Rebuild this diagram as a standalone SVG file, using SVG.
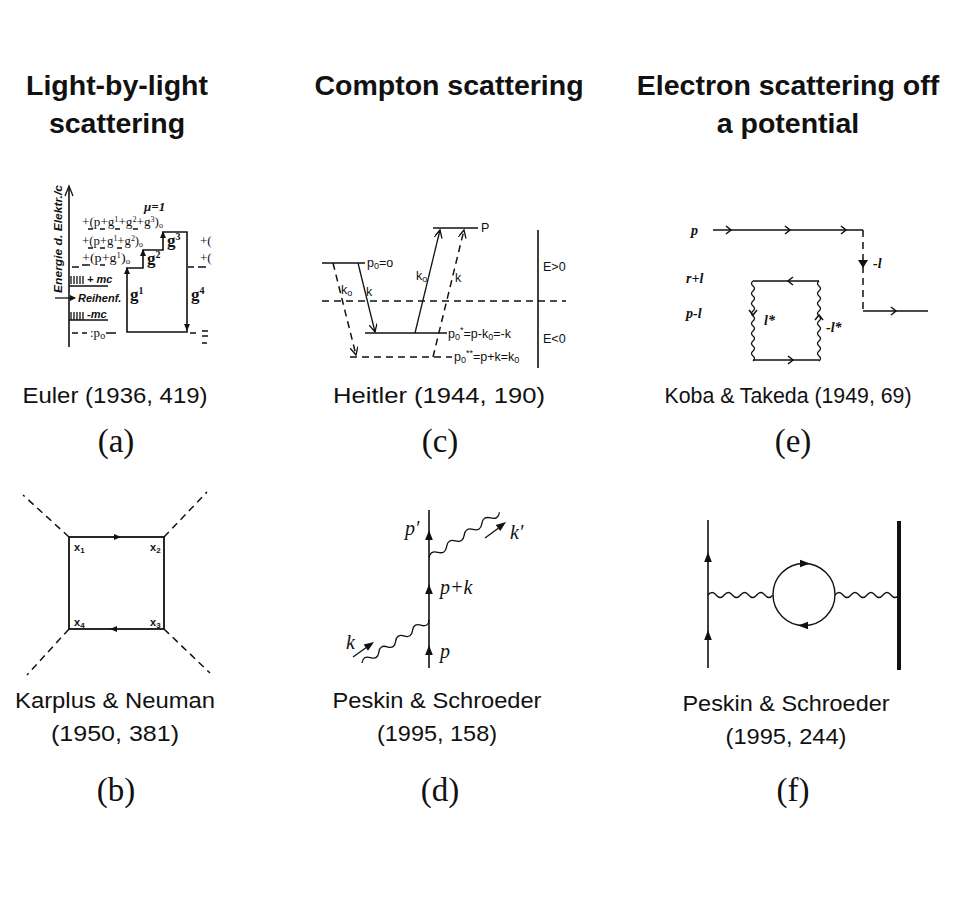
<svg xmlns="http://www.w3.org/2000/svg" xmlns:xlink="http://www.w3.org/1999/xlink" width="956" height="900" viewBox="0 0 956 900">
<style>
.title{font-family:"Liberation Sans",Arial,sans-serif;font-weight:bold;font-size:28.5px;text-anchor:middle;fill:#111}
.cap{font-family:"Liberation Sans",Arial,sans-serif;font-size:22px;text-anchor:middle;fill:#111}
.lab{font-family:"Liberation Serif","Times New Roman",serif;font-size:33px;text-anchor:middle;fill:#111}
.ln{stroke:#111;fill:none;stroke-width:1.6}
.thin{stroke:#111;fill:none;stroke-width:1.3}
.dash{stroke:#111;fill:none;stroke-width:1.5;stroke-dasharray:7,5}
.eu{font-family:"Liberation Serif","Times New Roman",serif;font-size:13px;fill:#111}
.eub{font-family:"Liberation Serif","Times New Roman",serif;font-weight:bold;font-size:17px;fill:#111}
.eui{font-family:"Liberation Sans",Arial,sans-serif;font-style:italic;font-weight:bold;font-size:11px;fill:#111}
.he{font-family:"Liberation Sans",Arial,sans-serif;font-size:12.5px;fill:#111}
.kt{font-family:"Liberation Serif","Times New Roman",serif;font-style:italic;font-weight:bold;font-size:14px;fill:#111}
.ps{font-family:"Liberation Serif","Times New Roman",serif;font-style:italic;font-size:20px;fill:#111}
.kn{font-family:"Liberation Sans",Arial,sans-serif;font-weight:bold;font-size:11px;fill:#111}
.wave{stroke:#111;fill:none;stroke-width:1.3}
</style>
<defs>
<path id="ah" d="M0,0 L-10,-3.8 L-10,3.8 Z" fill="#111"/>
<path id="sah" d="M0,0 L-7,-3 L-7,3 Z" fill="#111"/>
<path id="chev" d="M-4,-4 L1,0 L-4,4" fill="none" stroke="#111" stroke-width="1.5"/>
<marker id="open" markerWidth="10" markerHeight="10" refX="8" refY="4" orient="auto" markerUnits="userSpaceOnUse">
<path d="M0,0 L8,4 L0,8" fill="none" stroke="#111" stroke-width="1.3"/>
</marker>
</defs>

<!-- Titles -->
<g id="titles">
<text class="title" x="117" y="95">Light-by-light</text>
<text class="title" x="117" y="133">scattering</text>
<text class="title" x="449" y="95">Compton scattering</text>
<text class="title" x="788" y="95">Electron scattering off</text>
<text class="title" x="788" y="133">a potential</text>
</g>

<!-- (a) Euler -->
<g id="node-a">
<line class="ln" x1="69" y1="347" x2="69" y2="188"/>
<path class="thin" d="M65,196 L69,186 L73,196"/>
<text class="eui" transform="translate(62,293) rotate(-90)" textLength="108" lengthAdjust="spacingAndGlyphs">Energie d. Elektr./c</text>
<text class="eu" font-style="italic" font-weight="bold" x="144" y="211" font-size="13">μ=1</text>
<text class="eu" x="82" y="226" textLength="81" lengthAdjust="spacingAndGlyphs">+(p+g<tspan dy="-4" font-size="8">1</tspan><tspan dy="4">+g</tspan><tspan dy="-4" font-size="8">2</tspan><tspan dy="4">+g</tspan><tspan dy="-4" font-size="8">3</tspan><tspan dy="4">)</tspan><tspan dy="2" font-size="8">o</tspan></text>
<text class="eu" x="82" y="245" textLength="61" lengthAdjust="spacingAndGlyphs">+(p+g<tspan dy="-4" font-size="8">1</tspan><tspan dy="4">+g</tspan><tspan dy="-4" font-size="8">2</tspan><tspan dy="4">)</tspan><tspan dy="2" font-size="8">o</tspan></text>
<text class="eu" x="82" y="262" textLength="48" lengthAdjust="spacingAndGlyphs">+(p+g<tspan dy="-4" font-size="8">1</tspan><tspan dy="4">)</tspan><tspan dy="2" font-size="8">o</tspan></text>
<path class="thin" d="M88,229 h5 M100,229 h5 M115,229 h5 M133,229 h5 M88,248 h5 M100,248 h5 M117,248 h5 M82,265 h8 M100,265 h5"/>
<path class="thin" d="M72,267 h7 M188,267 h6 M198,267 h8"/>
<path class="ln" d="M127,332 V268 H143 V250 H163 V232 H187 V332 Z"/>
<use href="#sah" transform="translate(127,267) rotate(-90)"/>
<use href="#sah" transform="translate(143,249) rotate(-90)"/>
<use href="#sah" transform="translate(163,231) rotate(-90)"/>
<use href="#sah" transform="translate(187,331) rotate(90)"/>
<text class="eub" x="130" y="300">g<tspan dy="-6" font-size="10">1</tspan></text>
<text class="eub" x="147" y="264">g<tspan dy="-6" font-size="10">2</tspan></text>
<text class="eub" x="167" y="246">g<tspan dy="-6" font-size="10">3</tspan></text>
<text class="eub" x="191" y="300">g<tspan dy="-6" font-size="10">4</tspan></text>
<path class="thin" d="M71,276 v8 M74,276 v8 M77,276 v8 M80,276 v8 M83,276 v8 M69,286 H108"/>
<text class="eui" x="87" y="283">+ mc</text>
<line class="thin" x1="55" y1="298" x2="75" y2="298"/>
<path d="M76,298 L70,295 L70,301 Z" fill="#111"/>
<text class="eui" x="78" y="302">Reihenf.</text>
<path class="thin" d="M71,312 v8 M74,312 v8 M77,312 v8 M80,312 v8 M83,312 v8 M69,320 H108"/>
<text class="eui" x="87" y="318">-mc</text>
<path class="thin" d="M72,333 h6 M82,333 h5 M106,333 h10"/>
<text class="eu" x="90" y="337" font-size="15">:p<tspan dy="2" font-size="10">o</tspan></text>
<path class="thin" d="M190,333 h6 M202,331 h6 M202,336 h6 M202,343 h5"/>
<text class="eu" x="200" y="245" font-size="13">+(</text>
<text class="eu" x="200" y="262" font-size="13">+(</text>
</g>

<!-- (c) Heitler -->
<g id="node-c">
<line class="ln" x1="433" y1="228" x2="478" y2="228"/>
<text class="he" x="481" y="232" font-size="13">P</text>
<line class="ln" x1="538" y1="230" x2="538" y2="368"/>
<text class="he" x="543" y="271">E&gt;0</text>
<text class="he" x="543" y="343">E&lt;0</text>
<line class="ln" x1="322" y1="263" x2="365" y2="263"/>
<text class="he" x="367" y="267">p<tspan font-size="9" dy="2">0</tspan><tspan dy="-2">=o</tspan></text>
<line class="dash" x1="322" y1="301" x2="566" y2="301"/>
<line class="thin" x1="358" y1="263" x2="375" y2="332" marker-end="url(#open)"/>
<text class="he" x="366" y="296" font-size="14">k</text>
<line class="dash" x1="333" y1="263" x2="356" y2="355" marker-end="url(#open)"/>
<text class="he" x="341" y="294" font-size="14">k<tspan font-size="9" dy="2">o</tspan></text>
<line class="ln" x1="365" y1="333" x2="447" y2="333"/>
<text class="he" x="448" y="338">p<tspan font-size="9" dy="2">0</tspan><tspan font-size="9" dy="-7">*</tspan><tspan dy="5">=p-k</tspan><tspan font-size="9" dy="2">0</tspan><tspan dy="-2">=-k</tspan></text>
<line class="dash" x1="350" y1="357" x2="452" y2="357"/>
<text class="he" x="454" y="361">p<tspan font-size="9" dy="2">0</tspan><tspan font-size="9" dy="-7">**</tspan><tspan dy="5">=p+k=k</tspan><tspan font-size="9" dy="2">0</tspan></text>
<line class="thin" x1="415" y1="333" x2="440" y2="230" marker-end="url(#open)"/>
<text class="he" x="416" y="280" font-size="14">k<tspan font-size="9" dy="2">o</tspan></text>
<line class="dash" x1="433" y1="357" x2="464" y2="230" marker-end="url(#open)"/>
<text class="he" x="455" y="282" font-size="14">k</text>
</g>

<!-- (e) Koba & Takeda -->
<g id="node-e">
<text class="kt" x="691" y="235">p</text>
<path class="ln" d="M713,230 H863"/>
<line class="dash" x1="863" y1="230" x2="863" y2="311" stroke-dasharray="6,4"/>
<path class="ln" d="M863,311 H928"/>
<use href="#chev" transform="translate(730,230)"/>
<use href="#chev" transform="translate(789,230)"/>
<use href="#chev" transform="translate(845,230)"/>
<use href="#chev" transform="translate(895,311)"/>
<path d="M863,268 L858,260 L868,260 Z" fill="#111"/>
<text class="kt" x="873" y="268" font-size="12">-l</text>
<text class="kt" x="686" y="283" font-size="12">r+l</text>
<text class="kt" x="686" y="318" font-size="12">p-l</text>
<path class="ln" d="M753,281 H819 M753,360 H819"/>
<use href="#chev" transform="translate(789,281) rotate(180)"/>
<use href="#chev" transform="translate(792,360)"/>
<path class="wave" d="M753,281 q-3,2.5 0,5 t0,5 t0,5 t0,5 t0,5 t0,5 t0,5 t0,5 t0,5 t0,5 t0,5 t0,5 t0,5 t0,5 t0,5 t0,5"/>
<path class="wave" d="M819,281 q-3,2.5 0,5 t0,5 t0,5 t0,5 t0,5 t0,5 t0,5 t0,5 t0,5 t0,5 t0,5 t0,5 t0,5 t0,5 t0,5 t0,5"/>
<use href="#chev" transform="translate(753,314) rotate(90)"/>
<use href="#chev" transform="translate(819,316) rotate(-90)"/>
<text class="kt" x="764" y="325" font-size="12">l*</text>
<text class="kt" x="826" y="332" font-size="12">-l*</text>
</g>

<!-- (b) Karplus & Neuman -->
<g id="node-b">
<rect x="69" y="537" width="95" height="92" fill="none" stroke="#111" stroke-width="1.8"/>
<line class="dash" x1="69" y1="537" x2="23" y2="495"/>
<line class="dash" x1="164" y1="537" x2="207" y2="492"/>
<line class="dash" x1="164" y1="629" x2="210" y2="673"/>
<line class="dash" x1="69" y1="629" x2="27" y2="675"/>
<use href="#sah" transform="translate(121,537)"/>
<use href="#sah" transform="translate(110,629) rotate(180)"/>
<text class="kn" x="74" y="551">x<tspan font-size="8" dy="2">1</tspan></text>
<text class="kn" x="150" y="551">x<tspan font-size="8" dy="2">2</tspan></text>
<text class="kn" x="150" y="626">x<tspan font-size="8" dy="2">3</tspan></text>
<text class="kn" x="74" y="626">x<tspan font-size="8" dy="2">4</tspan></text>
</g>

<!-- (d) Peskin & Schroeder Compton -->
<g id="node-d">
<line class="ln" x1="429" y1="510" x2="429" y2="668"/>
<use href="#ah" transform="translate(429,530) rotate(-90)"/>
<use href="#ah" transform="translate(429,584) rotate(-90)"/>
<use href="#ah" transform="translate(429,645) rotate(-90)"/>
<path class="wave" transform="translate(429,558) rotate(-33)" d="M0,0 q5.25,-6 10.5,0 t10.5,0 t10.5,0 t10.5,0 t10.5,0 t10.5,0 t10.5,0 t10.5,0"/>
<path class="wave" transform="translate(362,663) rotate(-32.7)" d="M0,0 q5,-6 10,0 t10,0 t10,0 t10,0 t10,0 t10,0 t10,0 t10,0"/>
<line class="thin" x1="485" y1="538" x2="500" y2="527"/>
<use href="#ah" transform="translate(506,522) rotate(-37)"/>
<line class="thin" x1="353" y1="657" x2="367" y2="647"/>
<use href="#ah" transform="translate(374,642) rotate(-35)"/>
<text class="ps" x="405" y="535">p′</text>
<text class="ps" x="510" y="539">k′</text>
<text class="ps" x="440" y="594">p+k</text>
<text class="ps" x="440" y="658">p</text>
<text class="ps" x="346" y="649">k</text>
</g>

<!-- (f) Peskin & Schroeder vacuum polarization -->
<g id="node-f">
<line class="ln" x1="708" y1="520" x2="708" y2="668"/>
<use href="#ah" transform="translate(708,552) rotate(-90)"/>
<use href="#ah" transform="translate(708,630) rotate(-90)"/>
<path class="wave" d="M708,595 q4.06,-5 8.125,0 t8.125,0 t8.125,0 t8.125,0 t8.125,0 t8.125,0 t8.125,0 t8.125,0"/>
<circle cx="804" cy="594.5" r="31" fill="none" stroke="#111" stroke-width="1.4"/>
<use href="#ah" transform="translate(810,563.5)"/>
<use href="#ah" transform="translate(798,625.5) rotate(180)"/>
<path class="wave" d="M835,595 q4,-5 8,0 t8,0 t8,0 t8,0 t8,0 t8,0 t8,0 t8,0"/>
<line x1="899" y1="521" x2="899" y2="670" stroke="#111" stroke-width="4"/>
</g>

<!-- Captions -->
<g id="captions">
<text class="cap" x="115" y="403" textLength="185" lengthAdjust="spacingAndGlyphs">Euler (1936, 419)</text>
<text class="lab" x="116" y="452">(a)</text>
<text class="cap" x="439" y="403" textLength="212" lengthAdjust="spacingAndGlyphs">Heitler (1944, 190)</text>
<text class="lab" x="440" y="452">(c)</text>
<text class="cap" x="788" y="403" textLength="247" lengthAdjust="spacingAndGlyphs">Koba &amp; Takeda (1949, 69)</text>
<text class="lab" x="793" y="452">(e)</text>
<text class="cap" x="115" y="708" textLength="200" lengthAdjust="spacingAndGlyphs">Karplus &amp; Neuman</text>
<text class="cap" x="115" y="741" textLength="128" lengthAdjust="spacingAndGlyphs">(1950, 381)</text>
<text class="lab" x="116" y="801">(b)</text>
<text class="cap" x="437" y="708" textLength="209" lengthAdjust="spacingAndGlyphs">Peskin &amp; Schroeder</text>
<text class="cap" x="437" y="741" textLength="120" lengthAdjust="spacingAndGlyphs">(1995, 158)</text>
<text class="lab" x="440" y="801">(d)</text>
<text class="cap" x="786" y="711" textLength="207" lengthAdjust="spacingAndGlyphs">Peskin &amp; Schroeder</text>
<text class="cap" x="786" y="744" textLength="121" lengthAdjust="spacingAndGlyphs">(1995, 244)</text>
<text class="lab" x="793" y="801">(f)</text>
</g>
</svg>
